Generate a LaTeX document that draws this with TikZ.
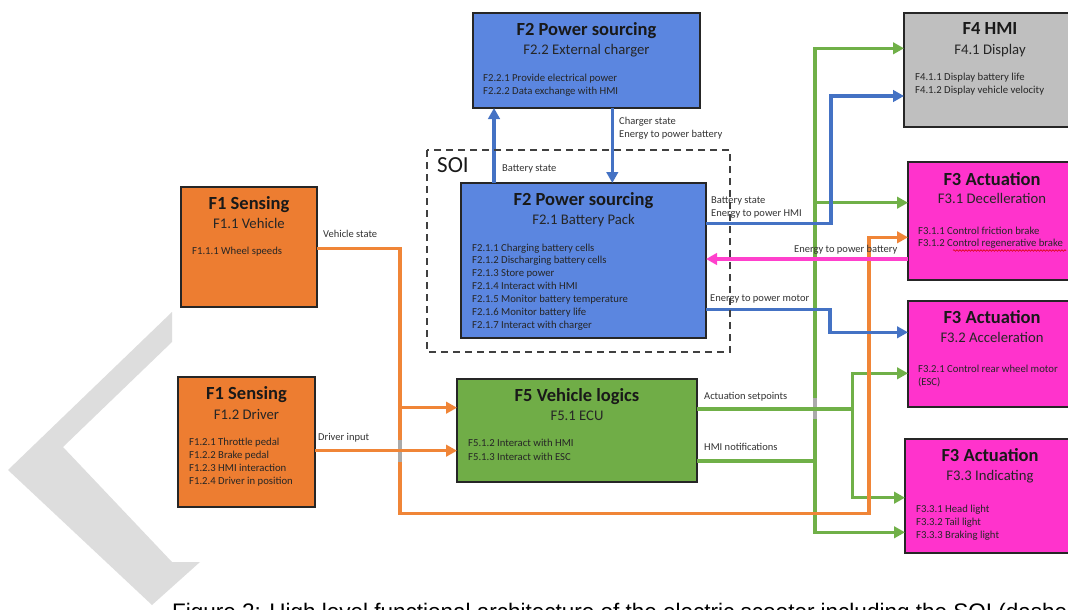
\documentclass[tikz,border=0pt]{standalone}
\usepackage{fontspec}
\setmainfont{Carlito}
\newfontfamily\capfont{Liberation Sans}
\usetikzlibrary{arrows.meta,decorations.pathmorphing}

\definecolor{orfill}{RGB}{237,125,49}
\definecolor{orline}{RGB}{240,133,55}
\definecolor{bluefill}{RGB}{91,134,224}
\definecolor{blueline}{RGB}{68,114,196}
\definecolor{greenfill}{RGB}{112,173,71}
\definecolor{greenline}{RGB}{112,176,72}
\definecolor{hmifill}{RGB}{191,191,191}
\definecolor{magfill}{RGB}{255,51,204}
\definecolor{magline}{RGB}{255,64,204}
\definecolor{wmark}{RGB}{221,221,221}
\definecolor{jumpgray}{RGB}{170,170,170}
\definecolor{soigray}{RGB}{64,64,64}

\tikzset{
  box/.style={draw=black!85, line width=1.3pt, anchor=north west, inner sep=0pt, outer sep=0pt},
  ttl/.style={font=\fontsize{18.5}{22}\selectfont\bfseries, anchor=base, inner sep=0pt, text=black!90},
  sub/.style={font=\fontsize{14.7}{17}\selectfont, anchor=base, inner sep=0pt, text=black!85},
  item/.style={font=\fontsize{10.7}{12.9}\selectfont, anchor=base west, inner sep=0pt, text=black!85},
  lbl/.style={font=\fontsize{10.5}{13}\selectfont, anchor=base west, inner sep=0pt, text=black!80},
  flow/.style={line width=3.3pt},
  tip/.style={-{Triangle[length=11pt,width=11.5pt]}},
  tips/.style={{Triangle[length=11pt,width=11.5pt]}-{Triangle[length=11pt,width=11.5pt]}},
}

\begin{document}
\begin{tikzpicture}[x=1pt,y=-1pt]
\path[use as bounding box, fill=white] (0,0) rectangle (1068,610);
\clip (0,0) rectangle (1068,610);

% watermark chevron
\fill[wmark] (172,312) -- (172,342) -- (63,447) -- (172,562) -- (200,562)
  -- (152,605) -- (8,470) -- cycle;

% function boxes
\node[box, fill=orfill,    minimum width=136pt, minimum height=120pt] (f11) at (181,187) {};
\node[box, fill=orfill,    minimum width=137pt, minimum height=130pt] (f12) at (178,377) {};
\node[box, fill=bluefill,  minimum width=227pt, minimum height=95pt]  (f22) at (473,13) {};
\node[box, fill=bluefill,  minimum width=245pt, minimum height=155pt] (f21) at (461,183) {};
\node[box, fill=greenfill, minimum width=240pt, minimum height=103pt] (f5)  at (457,379) {};
\node[box, fill=hmifill,   minimum width=172pt, minimum height=114pt] (f4)  at (904,13) {};
\node[box, fill=magfill,   minimum width=168pt, minimum height=118pt] (f31) at (908,162) {};
\node[box, fill=magfill,   minimum width=168pt, minimum height=106pt] (f32) at (908,301) {};
\node[box, fill=magfill,   minimum width=171pt, minimum height=114pt] (f33) at (905,439) {};

% box texts
\node[ttl] (f11t) at (249,209.3) {F1 Sensing};
\node[sub] (f11s) at (249,228.3) {F1.1 Vehicle};
\node[item] (f11i) at (192,254.3) {F1.1.1 Wheel speeds};

\node[ttl] (f12t) at (246.5,399.3) {F1 Sensing};
\node[sub] (f12s) at (246.5,419.3) {F1.2 Driver};
\foreach \s [count=\i from 0] in {{F1.2.1 Throttle pedal},{F1.2.2 Brake pedal},{F1.2.3 HMI interaction},{F1.2.4 Driver in position}}
  \node[item] (f12i\i) at (189,445.7+12.9*\i) {\s};

\node[ttl] (f22t) at (586.5,36) {F2 Power sourcing};
\node[sub] (f22s) at (586.5,55) {F2.2 External charger};
\foreach \s [count=\i from 0] in {{F2.2.1 Provide electrical power},{F2.2.2 Data exchange with HMI}}
  \node[item] (f22i\i) at (483,81.7+12.6*\i) {\s};

\node[ttl] (f21t) at (583.5,205.7) {F2 Power sourcing};
\node[sub] (f21s) at (583.5,224.3) {F2.1 Battery Pack};
\foreach \s [count=\i from 0] in {{F2.1.1 Charging battery cells},{F2.1.2 Discharging battery cells},{F2.1.3 Store power},{F2.1.4 Interact with HMI},{F2.1.5 Monitor battery temperature},{F2.1.6 Monitor battery life},{F2.1.7 Interact with charger}}
  \node[item] (f21i\i) at (472,251+12.9*\i) {\s};

\node[ttl] (f5t) at (577,401.7) {F5 Vehicle logics};
\node[sub] (f5s) at (577,420) {F5.1 ECU};
\foreach \s [count=\i from 0] in {{F5.1.2 Interact with HMI},{F5.1.3 Interact with ESC}}
  \node[item] (f5i\i) at (468,446.7+13.3*\i) {\s};

\node[ttl] (f4t) at (990,35) {F4 HMI};
\node[sub] (f4s) at (990,54.3) {F4.1 Display};
\foreach \s [count=\i from 0] in {{F4.1.1 Display battery life},{F4.1.2 Display vehicle velocity}}
  \node[item] (f4i\i) at (915,81+12.3*\i) {\s};

\node[ttl] (f31t) at (992,185) {F3 Actuation};
\node[sub] (f31s) at (992,203.3) {F3.1 Decelleration};
\foreach \s [count=\i from 0] in {{F3.1.1 Control friction brake},{F3.1.2 Control regenerative brake}}
  \node[item] (f31i\i) at (918,234+12.7*\i) {\s};

\node[ttl] (f32t) at (992,323.3) {F3 Actuation};
\node[sub] (f32s) at (992,342.3) {F3.2 Acceleration};
\foreach \s [count=\i from 0] in {{F3.2.1 Control rear wheel motor},{(ESC)}}
  \node[item] (f32i\i) at (918,372.7+13*\i) {\s};

\node[ttl] (f33t) at (990,461) {F3 Actuation};
\node[sub] (f33s) at (990,480) {F3.3 Indicating};
\foreach \s [count=\i from 0] in {{F3.3.1 Head light},{F3.3.2 Tail light},{F3.3.3 Braking light}}
  \node[item] (f33i\i) at (916,512.7+13*\i) {\s};

% spell-check underline
\draw[red!85!black, line width=0.6pt, decorate,
      decoration={snake, amplitude=0.8pt, segment length=3pt}] (953,250.5) -- (1066,250.5);

% green flows (ECU outputs)
\draw[flow, greenline, tips] (f4.west |- 0,48.3) -- (815,48.3) -- (815,532.3) -- (f33.west |- 0,532.3);
\draw[flow, greenline, tip] (815,202.7) -- (f31.west |- 0,202.7);
\draw[flow, greenline] (f5.east |- 0,461) -- (815,461);
\fill[jumpgray] (813,398) rectangle (817,419);
\draw[flow, greenline, tips] (f32.west |- 0,373.3) -- (852.7,373.3) -- (852.7,497.7) -- (f33.west |- 0,497.7);
\draw[flow, greenline] (f5.east |- 0,409) -- (852.7,409);

% orange flows (sensing)
\draw[flow, orline, tip] (f11.east |- 0,248.3) -- (400,248.3) -- (400,513.3) -- (869,513.3)
  -- (869,237.3) -- (f31.west |- 0,237.3);
\draw[flow, orline, tip] (400,407.7) -- (f5.west |- 0,407.7);
\fill[jumpgray] (398,440) rectangle (402,462);
\draw[flow, orline, tip] (f12.east |- 0,450.7) -- (f5.west |- 0,450.7);

% blue flows (power sourcing)
\draw[flow, blueline, tip] (f21.north -| 494,0) -- (f22.south -| 494,0);
\draw[flow, blueline, tip] (f22.south -| 612.3,0) -- (f21.north -| 612.3,0);
\draw[flow, blueline, tip] (f21.east |- 0,223.3) -- (831,223.3) -- (831,96) -- (f4.west |- 0,96);
\draw[flow, blueline, tip] (f21.east |- 0,309.3) -- (830,309.3) -- (830,332.3) -- (f32.west |- 0,332.3);

% magenta flow (regenerative energy)
\draw[flow, magline, tip] (f31.west |- 0,259) -- (f21.east |- 0,259);

% system of interest
\draw[soigray, line width=1.8pt, dash pattern=on 7pt off 5pt] (427,150) rectangle (730,352);
\node[font=\fontsize{23}{26}\selectfont, anchor=base west, inner sep=0pt, text=black!90] (soi) at (437,172) {SOI};

% connector labels
\node[lbl] (lveh) at (323,237) {Vehicle state};
\node[lbl] (ldrv) at (318,440.7) {Driver input};
\node[lbl] (lbat) at (502,171.7) {Battery state};
\node[lbl] (lchg) at (619,124.3) {Charger state};
\node[lbl] (lchg2) at (619,137.3) {Energy to power battery};
\node[lbl] (lhmi) at (711,203.3) {Battery state};
\node[lbl] (lhmi2) at (711,216) {Energy to power HMI};
\node[lbl] (lreg) at (794,252.3) {Energy to power battery};
\node[lbl] (lmot) at (710,301) {Energy to power motor};
\node[lbl] (lact) at (704,399) {Actuation setpoints};
\node[lbl] (lnot) at (704,450.7) {HMI notifications};

% caption
\node[font=\capfont\fontsize{22.5}{26}\selectfont, anchor=base west, inner sep=0pt] (cap)
  at (172,619) {Figure 2: High level functional architecture of the electric scooter including the SOI (dashed};
\end{tikzpicture}
\end{document}
